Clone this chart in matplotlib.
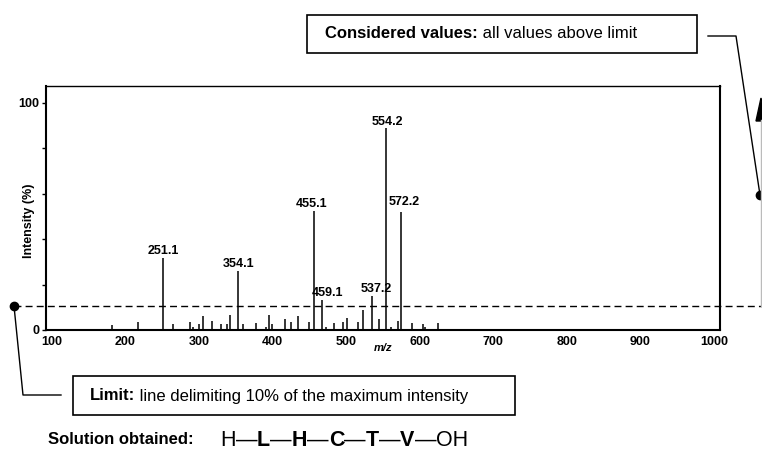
import matplotlib
matplotlib.use("Agg")
import matplotlib.pyplot as plt
from matplotlib.patches import Rectangle, Polygon
from matplotlib.transforms import blended_transform_factory

plt.rcParams['font.family'] = ['Liberation Sans', 'DejaVu Sans']

# peaks (m/z, relative intensity %)
mz = [181.3, 217.0, 251.1, 264.6, 287.7, 292.2, 300.3, 305.8, 317.6, 329.8,
      337.6, 342.0, 353.5, 359.3, 377.4, 390.6, 394.7, 398.7, 416.8, 425.0,
      434.9, 449.0, 456.0, 467.5, 472.5, 483.4, 496.0, 501.0, 516.4, 523.2,
      535.7, 543.9, 554.2, 560.9, 570.4, 574.5, 589.8, 604.0, 607.5, 624.8]
intensity = [2.2, 3.6, 31.5, 2.8, 3.6, 1.5, 2.8, 6.3, 4.1, 2.8,
             2.8, 6.6, 26.0, 2.8, 3.1, 1.5, 6.4, 2.8, 4.9, 3.5,
             6.0, 3.4, 52.3, 13.2, 1.5, 3.1, 3.7, 5.3, 3.5, 8.6,
             15.0, 4.8, 89.0, 1.5, 3.9, 51.8, 3.1, 2.8, 1.5, 3.1]
peak_labels = ['', '', '251.1', '', '', '', '', '', '', '',
               '', '', '354.1', '', '', '', '', '', '', '',
               '', '', '455.1', '459.1', '', '', '', '', '', '',
               '537.2', '', '554.2', '', '', '572.2', '', '', '', '']
limit = 10.5

x_ticks = [100, 200, 300, 400, 500, 600, 700, 800, 900, 1000]
y_ticks = [0, 20, 40, 60, 80, 100]
y_tick_labels = ['0', '', '', '', '', '100']

peptide = [('H', 'normal'), ('\u2014', 'normal'), ('L', 'bold'), ('\u2014', 'normal'),
           ('H', 'bold'), ('\u2014', 'normal'), ('C', 'bold'), ('\u2014', 'normal'),
           ('T', 'bold'), ('\u2014', 'normal'), ('V', 'bold'), ('\u2014', 'normal'),
           ('OH', 'normal')]

W, H = 762, 468
fig = plt.figure(figsize=(W / 100, H / 100), dpi=100)

# spectrum
ax = fig.add_axes([46 / W, 1 - 330 / H, 674 / W, 244 / H])
ax.vlines(mz, 0, intensity, color='k', lw=1.1)
ax.set_xlim(92, 1008)
ax.set_ylim(0, 107.3)
ax.set_xticks(x_ticks)
ax.set_yticks(y_ticks)
ax.set_yticklabels(y_tick_labels)
ax.tick_params(axis='x', length=0, pad=4, labelsize=9)
ax.tick_params(axis='y', length=3, width=1, pad=2, labelsize=9)
for t in ax.get_xticklabels() + ax.get_yticklabels():
    t.set_fontweight('bold')
for side in ['left', 'bottom', 'right']:
    ax.spines[side].set_linewidth(1.5)
ax.spines['top'].set_linewidth(1.0)

ax.set_ylabel('Intensity (%)', fontsize=9, fontweight='bold')
ax.yaxis.set_label_coords(-11 / 674, 0.447)
ax.set_xlabel('m/z', fontsize=8, fontweight='bold', style='italic')
ax.xaxis.set_label_coords(0.5, -13 / 244)

# label offsets in points (dx, dy)
offs = {'251.1': (0, 5), '354.1': (0, 5), '455.1': (-1.5, 5), '459.1': (3.5, 5),
        '537.2': (2.5, 5), '554.2': (1, 4), '572.2': (2, 7)}
for x, y, lab in zip(mz, intensity, peak_labels):
    if lab:
        ax.annotate(lab, (x, y), xytext=offs[lab], textcoords='offset points',
                    ha='center', va='center', fontsize=9, fontweight='bold')

# 10% limit line across the whole figure
trans = blended_transform_factory(fig.transFigure, ax.transData)
ax.plot([14 / W, 1.0], [limit, limit], color='k', lw=1.0, ls=(0, (5, 3)),
        transform=trans, clip_on=False)
ax.plot([14 / W], [limit], 'o', color='k', ms=6, transform=trans, clip_on=False)

# overlay in pixel coordinates for the notes
ov = fig.add_axes([0, 0, 1, 1])
ov.set_xlim(0, W)
ov.set_ylim(H, 0)
ov.axis('off')

# top note
ov.add_patch(Rectangle((307, 15), 390, 38, fill=False, lw=1.2, ec='k'))
t = ov.text(325, 34, 'Considered values:', fontsize=12, fontweight='bold', va='center')
ov.annotate(' all values above limit', xy=(1, 0), xycoords=t, va='bottom', fontsize=12)
ov.plot([708, 736, 760], [36, 36, 195], color='k', lw=1.0)
ov.plot([760], [195], 'o', color='k', ms=6, clip_on=False)
ov.plot([761, 761], [120, 306], color='#bbbbbb', lw=1.0)
ov.add_patch(Polygon([[756, 121], [766, 121], [761, 98]], closed=True, color='k', clip_on=False))

# bottom note
ov.plot([14, 23, 61], [306, 395, 395], color='k', lw=1.0)
ov.add_patch(Rectangle((72.7, 376), 442, 39, fill=False, lw=1.2, ec='k'))
t = ov.text(90, 396, 'Limit:', fontsize=12, fontweight='bold', va='center')
ov.annotate(' line delimiting 10% of the maximum intensity', xy=(1, 0), xycoords=t,
            va='bottom', fontsize=12)

# solution
ov.text(48, 440, 'Solution obtained:', fontsize=12, fontweight='bold', va='center')
prev = ov.text(220, 440, peptide[0][0], fontsize=15.5, fontweight=peptide[0][1], va='center')
for s, w in peptide[1:]:
    prev = ov.annotate(s, xy=(1, 0), xycoords=prev, va='bottom', fontsize=15.5, fontweight=w)

fig.savefig('out.png', dpi=100)
